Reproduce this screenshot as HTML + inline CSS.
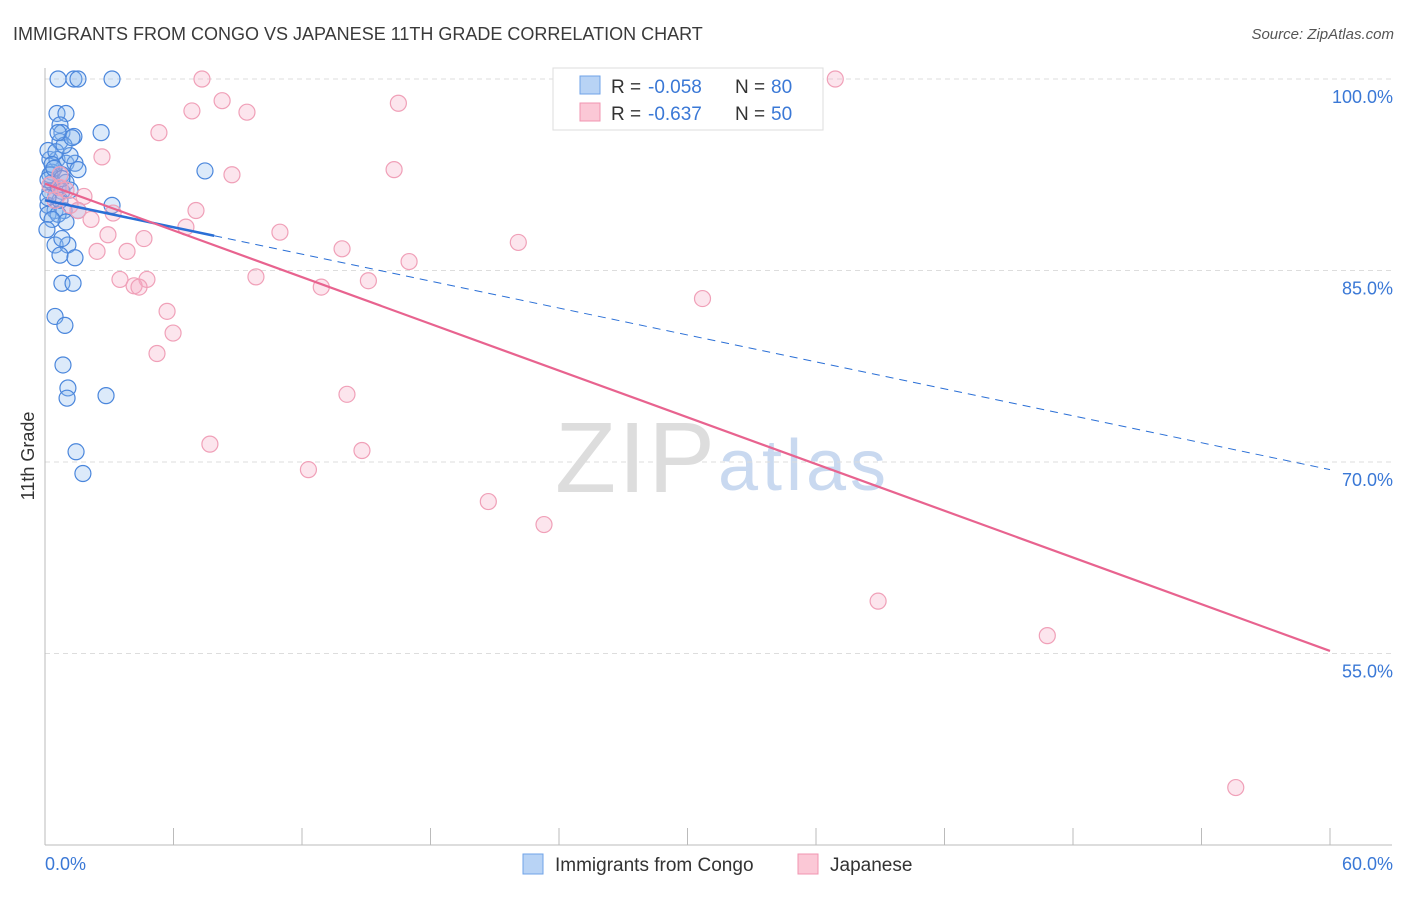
<!DOCTYPE html>
<html><head><meta charset="utf-8"><style>
body{margin:0;background:#fff;font-family:"Liberation Sans",sans-serif;}
svg text{font-family:"Liberation Sans",sans-serif;}
</style></head><body>
<svg id="chart" width="1406" height="892" viewBox="0 0 1406 892" xmlns="http://www.w3.org/2000/svg">
<text x="13" y="40" font-size="18" fill="#3a3a3a">IMMIGRANTS FROM CONGO VS JAPANESE 11TH GRADE CORRELATION CHART</text>
<text x="1394" y="39" font-size="15" fill="#555" text-anchor="end" font-style="italic">Source: ZipAtlas.com</text>
<text x="555" y="492" font-size="100" fill="#ddd" font-family="Liberation Serif" textLength="160">ZIP</text>
<text x="718" y="490" font-size="72" fill="#c9d9f0" textLength="168">atlas</text>
<g id="grid"></g><g id="axes"></g><g id="marks"></g>
<text transform="translate(34,456) rotate(-90)" font-size="18" fill="#333" text-anchor="middle">11th Grade</text>
<g>
<rect x="553" y="68" width="270" height="62" fill="#fff" stroke="#ddd"/>
<rect x="580" y="76" width="20" height="18" fill="#b8d3f5" stroke="#6fa3e8"/>
<rect x="580" y="103" width="20" height="18" fill="#fbc8d6" stroke="#f095b0"/>
<text x="611" y="93" font-size="19" fill="#333">R =</text>
<text x="648" y="93" font-size="19" fill="#3a78d6">-0.058</text>
<text x="735" y="93" font-size="19" fill="#333">N =</text>
<text x="771" y="93" font-size="19" fill="#3a78d6">80</text>
<text x="611" y="120" font-size="19" fill="#333">R =</text>
<text x="648" y="120" font-size="19" fill="#3a78d6">-0.637</text>
<text x="735" y="120" font-size="19" fill="#333">N =</text>
<text x="771" y="120" font-size="19" fill="#3a78d6">50</text>
</g>
<g>
<rect x="523" y="854" width="20" height="20" fill="#b8d3f5" stroke="#6fa3e8"/>
<text x="555" y="871" font-size="19" fill="#333">Immigrants from Congo</text>
<rect x="798" y="854" width="20" height="20" fill="#fbc8d6" stroke="#f095b0"/>
<text x="830" y="871" font-size="19" fill="#333">Japanese</text>
</g>
</svg>
<script>
const yTicks=[100,85,70,55];
const yTickLabels=["100.0%","85.0%","70.0%","55.0%"];
const xTicks=[0,6,12,18,24,30,36,42,48,54,60];
const xEndLabels=["0.0%","60.0%"];
const congoX=[0.61,1.35,1.54,3.13,0.56,0.98,0.70,0.79,1.35,0.70,2.62,0.23,0.56,0.98,1.40,1.54,0.33,0.79,0.33,0.61,0.98,0.23,0.79,0.14,0.47,0.89,1.54,0.14,0.61,0.98,3.13,7.47,0.47,1.07,0.70,1.40,0.79,1.31,0.47,0.93,0.84,1.07,1.03,2.85,1.45,1.77,0.14,0.51,0.33,1.17,0.23,0.51,0.70,0.33,0.09,0.79,0.14,0.42,0.89,1.26,0.61,0.14,1.17,0.79];
const congoY=[100,100,100,100,97.3,97.3,96.4,95.8,95.5,95.1,95.8,93.7,93.7,93.4,93.4,92.9,92.7,92.5,91.9,91.5,91.9,91.2,91.2,90.1,89.7,89.7,89.7,89.4,89.4,88.8,90.1,92.8,87.0,87.0,86.2,86.0,84.0,84.0,81.4,80.7,77.6,75.8,75.0,75.2,70.8,69.1,94.4,94.3,93.3,94.0,92.5,90.9,90.5,89.0,88.2,87.5,92.1,93.0,94.8,95.4,95.8,90.7,91.3,92.2];
const japX=[7.33,36.9,8.27,6.86,9.43,16.5,5.32,2.66,8.73,16.3,0.70,0.98,1.82,1.54,3.18,7.05,2.15,6.58,2.94,10.97,4.62,2.43,3.83,13.87,22.1,17.0,3.50,4.76,9.85,15.1,4.16,4.39,12.9,30.7,5.70,5.98,5.23,14.1,7.70,14.8,12.3,20.7,23.3,38.9,46.8,55.6,0.23,0.47,1.17,0.7];
const japY=[100,100,98.3,97.5,97.4,98.1,95.8,93.9,92.5,92.9,91.5,91.3,90.8,89.7,89.5,89.7,89.0,88.4,87.8,88.0,87.5,86.5,86.5,86.7,87.2,85.7,84.3,84.3,84.5,84.2,83.8,83.7,83.7,82.8,81.8,80.1,78.5,75.3,71.4,70.9,69.4,66.9,65.1,59.1,56.4,44.5,91.7,90.5,90.1,92.5];
const congoTrend=[90.5,69.4]; const congoSolidEnd=7.9;
const japTrend=[91.8,55.2];
const X0=45,X1=1330,YTOP=79,PXPER15=191.5;
const sx=v=>X0+(v/60)*(X1-X0);
const sy=v=>YTOP+(100-v)/15*PXPER15;
const NS="http://www.w3.org/2000/svg";
function mk(parent,tag,attrs){const e=document.createElementNS(NS,tag);for(const k in attrs)e.setAttribute(k,attrs[k]);document.getElementById(parent).appendChild(e);return e;}
yTicks.forEach((t,i)=>{
 const g=mk('grid','line',{x1:45,x2:1392,y1:sy(t),y2:sy(t),stroke:'#ddd','stroke-dasharray':'5,4'});
 
 
 const tx=mk('grid','text',{x:1393,y:sy(t)+24,'font-size':18,fill:'#3a78d6','text-anchor':'end'});
 tx.textContent=yTickLabels[i];
 
 
});
const ax=mk('axes','line',{x1:45,x2:1392,y1:845,y2:845,stroke:'#bbb'});


const ay=mk('axes','line',{x1:45,x2:45,y1:68,y2:845,stroke:'#bbb'});


xTicks.forEach(t=>{const l=mk('axes','line',{x1:sx(t),x2:sx(t),y1:828,y2:845,stroke:'#bbb'});
 
 });
const xl0=mk('axes','text',{x:45,y:870,'font-size':18,fill:'#3a78d6'});xl0.textContent=xEndLabels[0];


const xl1=mk('axes','text',{x:1393,y:870,'font-size':18,fill:'#3a78d6','text-anchor':'end'});xl1.textContent=xEndLabels[1];


congoX.forEach((x,i)=>{const c=mk('marks','circle',{cx:sx(x),cy:sy(congoY[i]),r:8,fill:'rgba(140,185,240,0.3)',stroke:'#4a86dc','stroke-width':1.2});
 
 });
japX.forEach((x,i)=>{const c=mk('marks','circle',{cx:sx(x),cy:sy(japY[i]),r:8,fill:'rgba(245,170,195,0.3)',stroke:'#f0a0b8','stroke-width':1.2});
 
 });
const cy=x=>congoTrend[0]+(congoTrend[1]-congoTrend[0])*x/60;
const t1=mk('marks','line',{x1:sx(0),y1:sy(cy(0)),x2:sx(congoSolidEnd),y2:sy(cy(congoSolidEnd)),stroke:'#2a6fd6','stroke-width':2.5});


const t2=mk('marks','line',{x1:sx(congoSolidEnd),y1:sy(cy(congoSolidEnd)),x2:sx(60),y2:sy(cy(60)),stroke:'#2a6fd6','stroke-width':1,'stroke-dasharray':'8,6'});


const t3=mk('marks','line',{x1:sx(0),y1:sy(japTrend[0]),x2:sx(60),y2:sy(japTrend[1]),stroke:'#e8638f','stroke-width':2.2});


</script>
</body></html>
